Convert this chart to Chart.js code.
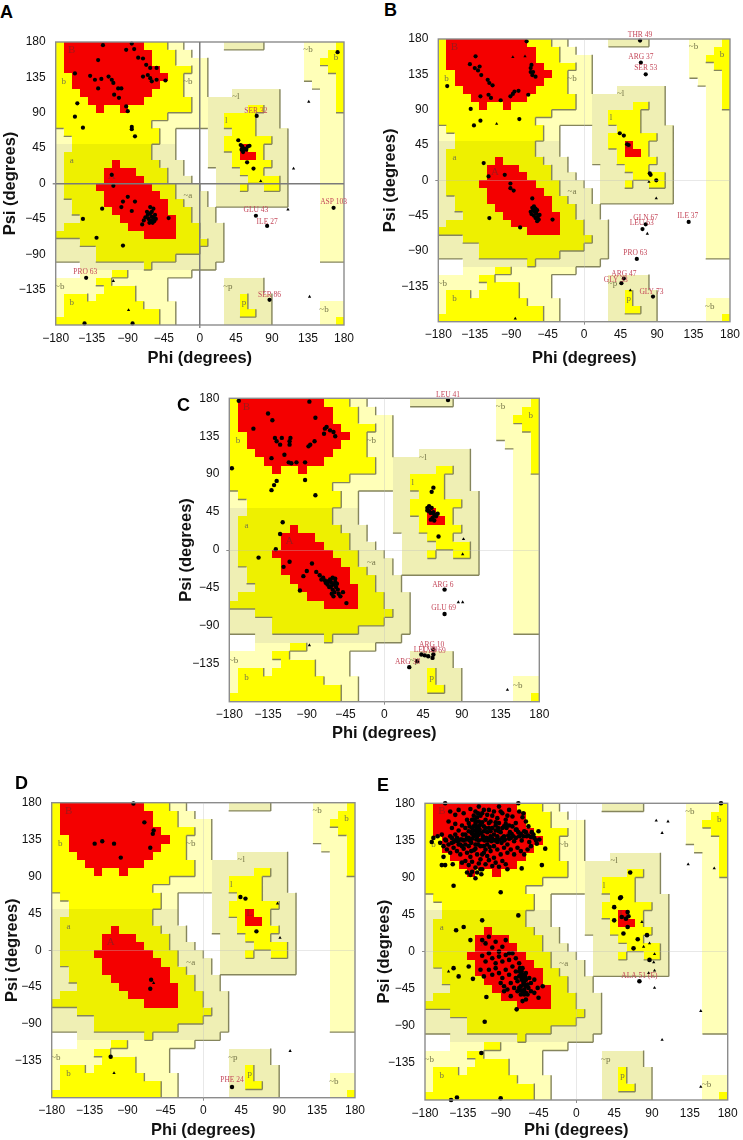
<!DOCTYPE html>
<html>
<head>
<meta charset="utf-8">
<title>Ramachandran plots</title>
<script src="https://cdn.jsdelivr.net/npm/chart.js@4"></script>
<style>
  html, body { margin:0; padding:0; background:#fff; }
  #page { position:relative; width:743px; height:1140px; overflow:hidden; }
  #page canvas { position:absolute; }
  .letter { position:absolute; font:bold 18px "Liberation Sans", Arial, sans-serif; line-height:1; color:#000; }
</style>
</head>
<body>
<div id="page"></div>
<script>
/* tick labels, same on all the panels */
const phiTicks = ['−180','−135','−90','−45','0','45','90','135','180'];
const psiTicks = ['','−135','−90','−45','0','45','90','135','180'];

/* regions map, 10 degree cells, top row is psi 170..180, run length per row
   R core, y allowed, a allowed (alpha), c generous, t generous (alpha/left), . none */
const regionRuns = [
  'y1R10y3c2.5t5.5c4y1',
  'y1R11y3c2.14c3y2',
  'y1R11y3c4.12c2y3',
  'y1R12y4c2.12c3y2',
  'y2R12y2c3.12c4y1',
  'y2R11y3c3.13c3y1',
  'y3R9y4c3.3t6.5c2y1',
  'y4R7y6c2t9.5c2y1',
  'y5R1y2R1y8c2t5y2t2.5c2y1',
  'y14c5t2y4t3.5c3',
  'y12c7t2y4t3.5c3',
  'c1y12c2.4t3y3t4.4c3',
  'c2y11c2.4t2y6t2.4c3',
  't2a10t3.4t2y2R1y2t3.4c3',
  't1a11t3.4t3y1R2y1t3.4c3',
  't1a6R1a5t3.3t3y5t2.4c3',
  't1a5R4a4t2.4t3y3t3.4c3',
  't1a5R5a3t3.3t4y4t1.4c3',
  't1a4R7a3t3.2t3y1t2y2t1.4c3',
  't1a5R7a2t4.1t9.4c3',
  't2a4R8a2t3.1t9.4c3',
  't2a5R7a3t3.13c3',
  't3a5R7a2t3.13c3',
  't1a8R6a3t3.12c3',
  'a11R4a3t3.12c3',
  't3a16t2.12c3',
  't5a13t3.12c3',
  't5a10t6.12c3',
  '.3t8a1t8.16',
  '.3c4y2c8.19',
  'c5y2c7.7t5.10',
  'c6y4c4.7t5.10',
  'c1y3c1y5c4.7t2y1t3.9',
  'c1y10c4.6t2y1t3.6c3',
  'c1y12c2.6t2y2t2.6c3',
  'y13c2.6t6.6c2y1'
];
const regionColors = { R:'#f40000', y:'#ffff00', a:'#eef000', c:'#ffffb8', t:'#efefb4' };
const regionRank = { R:2, y:2, a:2, c:1, t:1, '.':0 };

/* region letters: text, phi, psi */
const regionLabels = [
  ['B',-160,170],['b',-170,130],['a',-160,29],['A',-110,10],['~b',-15,130],['~a',-15,-15],
  ['~l',45,110],['l',33,80],['L',55,45],['~p',35,-131],['p',55,-151],['~b',135,170],
  ['b',170,160],['~b',-175,-131],['b',-160,-151],['~b',155,-161]
];

/* residues, [phi, psi] */
const pointsA = [[-85,178],[-121,176],[-92,170],[-82,171],[-127,157],[-77,160],[-71,159],[-67,151],[-62,147],[-54,147],
  [-156,140],[-137,137],[-131,132],[-123,133],[-114,136],[-110,132],[-108,128],[-127,121],[-102,121],[-98,121],[-107,113],
  [-101,109],[-92,98],[-90,92],[-71,136],[-62,134],[-60,130],[-54,132],[-43,131],[-65,138],[-153,102],[-156,85],[-146,71],
  [-85,72],[-85,69],[-81,60],[48,55],[51,49],[53,47],[56,44],[60,47],[54,40],[52,43],[58,43],[62,48],[59,27],[67,19],
  [71,86],[172,167],[-110,11],[-108,-3],[-122,-32],[-96,-23],[-90,-17],[-98,-30],[-81,-23],[-85,-35],
  [-62,-38],[-65,-40],[-60,-42],[-58,-44],[-64,-45],[-61,-47],[-56,-40],[-68,-43],[-60,-36],[-63,-50],[-57,-48],[-70,-47],
  [-66,-36],[-59,-50],[-72,-52],[-55,-45],[-62,-30],[-58,-32],[-39,-44],[-146,-45],[-129,-69],[-96,-79],[70,-41],
  [84,-54],[167,-31],[-142,-120],[-84,-178],[-144,-178],[87,-148]];
const glyA = [[117,19],[76,3],[136,104],[-108,-124],[-89,-161],[137,-144],[110,-33]];
const pointsB = [[-71,177],[-134,158],[-141,148],[-135,143],[-129,145],[-131,140],[-127,134],[-119,128],[-117,124],[-113,121],
  [-66,143],[-63,138],[-64,134],[-60,132],[-65,147],[-66,138],[-169,120],[-128,107],[-118,109],[-115,105],
  [-103,102],[-91,107],[-86,113],[-81,114],[-88,110],[-69,109],[-140,91],[-128,76],[-136,70],[-80,78],[44,60],[49,57],
  [55,45],[53,46],[81,9],[82,7],[89,0],[69,178],[70,150],[76,135],[129,-53],[76,-56],[72,-62],[65,-100],
  [49,-125],[46,-131],[85,-148],[-124,22],[-118,5],[-98,7],[-91,-4],[-91,-10],[-87,-13],[-117,-48],[-79,-60],
  [-39,-50],[-61,-40],[-63,-38],[-59,-42],[-65,-43],[-60,-36],[-62,-45],[-58,-38],[-64,-35],[-57,-46],[-60,-48],[-56,-50],[-66,-40],
  [-62,-33],[-58,-52],[-55,-44],[-64,-23]];
const glyB = [[78,-68],[89,-23],[80,-2],[-108,72],[-88,157],[-73,158],[-85,-176],[57,-140]];
const pointsC = [[-169,177],[-87,176],[-135,162],[-130,154],[-80,157],[-152,144],[-69,144],[-67,146],[-63,142],[-59,140],[-57,135],
  [-70,138],[-127,133],[-125,129],[-121,125],[-119,133],[-110,125],[-109,133],[-110,129],[-86,125],[-81,129],[-88,123],[-116,113],
  [-131,109],[-111,104],[-108,103],[-102,104],[-92,104],[-177,97],[-92,83],[-125,82],[-128,77],[-131,71],[-80,65],[57,74],[55,69],
  [52,52],[55,50],[50,50],[57,45],[54,44],[58,42],[52,46],[60,40],[56,38],[54,36],[62,43],[58,35],[50,47],[63,16],
  [74,178],[70,-47],[70,-76],[57,-118],[47,-125],[56,-128],[57,-124],[43,-124],[51,-126],[38,-132],
  [29,-139],[-118,33],[-121,19],[-126,1],[-146,-9],[-110,-14],[-117,-20],[-84,-16],[-90,-25],[-94,-31],[-98,-48],[-79,-26],
  [-75,-30],[-69,-36],[-44,-63],[-51,-55],[-59,-41],[-62,-38],[-56,-44],[-64,-44],[-60,-47],[-57,-38],[-63,-35],[-66,-41],[-58,-50],
  [-54,-47],[-61,-52],[-65,-37],[-60,-33],[-55,-40],[-68,-39],[-53,-52],[-62,-43],[-57,-34],[-59,-55],[-71,-33],[-48,-50],[-73,-35]];
const glyC = [[143,-166],[92,13],[91,-5],[86,-62],[91,-62],[-87,-113]];
const pointsD = [[-83,179],[-70,156],[-59,146],[-60,142],[-129,130],[-120,133],[-106,130],[-98,113],[-63,125],[-62,-36],
  [-63,-47],[44,65],[50,63],[63,23],[-110,-130],[34,-167]];
const glyD = [[103,-123],[91,15],[-106,-150],[88,57],[-59,-40]];
const pointsE = [[-156,180],[-69,180],[172,180],[64,96],[52,65],[53,66],[45,54],[45,38],
  [61,48],[62,43],[59,40],[54,42],[61,30],[56,22],[84,20],[73,15],[68,4],[87,-10],
  [75,-36],[-146,80],[-90,72],[-69,44],[-112,38],[-134,30],[-143,26],[-126,14],
  [-146,-20],[-140,-30],[-128,-18],[-123,-33],[-107,-55],[-71,-70],[-109,-85],[-113,-123],[-149,-180],[-142,-177],[-90,-178],
  [-37,125],[-45,146],[-41,105],[-65,101],[-158,115],[-160,105],[-156,105],[-147,106],[-126,93],[-120,89],[-113,94],[-82,100],[-170,138],[-172,133],
  [-165,140],[-160,142],[-155,135],[-150,140],[-146,133],[-142,138],[-138,130],[-135,142],[-131,136],[-128,146],[-125,132],[-122,140],
  [-118,150],[-116,135],[-113,144],[-110,128],[-107,138],[-104,150],[-101,134],[-98,142],[-95,136],[-92,146],[-89,132],[-86,140],[-83,150],
  [-80,137],[-77,143],[-74,134],[-71,148],[-68,140],[-65,135],[-62,146],[-59,140],[-56,133],[-53,145],[-50,138],[-47,131],[-44,136],
  [-150,170],[-144,166],[-140,172],[-134,168],[-130,160],[-126,173],[-122,165],[-119,158],[-116,176],[-112,168],[-108,160],[-104,172],
  [-100,165],[-96,157],[-92,176],[-88,168],[-84,160],[-80,172],[-76,164],[-72,156],[-68,170],[-64,163],[-60,158],[-57,152],[-63,168],
  [-152,158],[-148,150],[-144,155],[-140,147],[-136,153],[-132,150],[-128,156],[-124,150],[-120,156],[-116,152],[-112,157],[-108,150],
  [-104,156],[-100,150],[-96,153],[-92,156],[-88,150],[-84,155],[-80,153],[-76,152],[-72,148],
  [-158,128],[-154,124],[-150,120],[-146,126],[-142,122],[-138,118],[-134,125],[-130,120],[-126,115],[-122,123],[-118,118],[-114,112],
  [-110,120],[-106,116],[-102,122],[-98,114],[-94,124],[-90,118],[-86,126],[-82,120],[-78,124],[-74,118],[-70,126],[-66,122],[-62,118],
  [-58,124],[-54,128],[-132,110],[-128,105],[-124,109],[-120,102],[-116,107],[-112,100],[-108,106],[-104,111],[-100,104],[-96,108],
  [-92,103],[-88,110],[-84,106],[-136,108],[-130,96],[-124,97],[-118,96],[-114,100],[-124,137],[-120,130],[-116,142],[-112,136],[-110,146],
  [-106,130],[-102,140],[-98,128],[-94,140],[-90,145],[-86,135],[-82,130],[-78,138],[-118,140],[-114,128],[-128,128],[-132,142],[-136,136],
  [-140,130],[-144,142],[-148,132],[-152,130],[-156,136],[-162,132],
  [-148,138],[-144,135],[-141,134],[-138,136],[-134,135],[-130,138],[-127,135],[-124,143],[-121,147],[-119,143],[-117,146],[-115,148],
  [-119,136],[-111,140],[-109,135],[-105,135],[-103,137],[-100,137],[-97,135],[-94,133],[-91,136],[-88,138],[-85,136],[-81,141],
  [-79,145],[-75,140],[-72,138],[-69,145],[-66,143],[-63,140],[-60,145],[-57,141],[-54,139],[-51,142],[-48,135],[-121,160],[-119,152],
  [-118,163],[-116,158],[-114,165],[-120,142],[-122,152],[-125,145],[-127,152],[-110,152],[-106,145],[-102,146],[-96,147],[-93,150],
  [-128,138],[-132,130],[-136,128],[-125,122],[-120,125],[-117,130],[-112,118],[-108,124],[-103,127],
  [-124,160],[-120,170],[-117,168],[-110,172],[-114,154],[-106,166],[-102,158],[-98,170],[-94,162],[-90,170],[-86,152],[-82,165],
  [-112,14],[-108,10],[-104,18],[-100,5],[-96,12],[-92,0],[-88,6],[-84,14],[-80,-2],[-112,-5],[-108,-12],[-104,-2],[-100,-8],[-96,-14],
  [-92,-6],[-88,-12],[-84,-4],[-80,-10],[-76,-2],[-72,-8],[-68,-14],[-104,-22],[-100,-28],[-96,-20],[-92,-26],[-88,-32],[-84,-22],[-80,-28],
  [-76,-18],[-72,-24],[-68,-30],[-64,-20],[-60,-26],[-56,-32],[-114,-22],[-110,-30],[-90,-38],[-86,-42],[-82,-46],[-78,-38],[-74,-44],
  [-70,-36],[-66,-42],[-62,-36],[-58,-40],[-54,-38],[-50,-34],[-70,-48],[-66,-52],[-62,-46],[-58,-52],[-54,-48],[-64,-60],[-60,-58],
  [-50,-50],[-45,-56],[-40,-42],[-46,-44],[-78,-54],[-86,-48],[-68,-24],[-64,-32],[-60,-34],[-66,-28],[-62,-40],[-64,-48],[-72,-32],
  [-67,-20],[-65,-24],[-63,-28],[-61,-30],[-65,-34],[-63,-38],[-60,-42],[-68,-44],[-66,-47],[-62,-52],[-60,-50],[-57,-44]];
const glyE = [[95,159],[109,158],[102,144],[133,106],[164,101],[148,-72],[102,-107],[148,-164],[93,-3],[92,-13],[93,-23],[93,-44],
  [87,10],[86,-26],[-152,-24],[78,36],[80,6]];

/* label text, phi, psi of the flagged residues */
const residuesA = [['SER 32',70,92],['GLU 43',70,-34],['ILE 27',84,-49],['ASP 103',167,-24],['PRO 63',-143,-113],['SER 86',87,-142]];
const residuesB = [['THR 49',69,185],['ARG 37',70,157],['SER 53',76,143],['GLN 67',76,-48],['LEU 63',71,-54],['ILE 37',128,-45],
  ['PRO 63',63,-92],['ARG 47',49,-119],['GLY 33',39,-127],['GLY 73',83,-142]];
const residuesC = [['LEU 41',74,184],['ARG 6',68,-41],['GLU 69',69,-69],['ARG 10',55,-113],['LEU 29',48,-119],['LYS 69',58,-120],['ARG 38',27,-133]];
const residuesD = [['PHE 24',34,-158]];
const residuesE = [['ALA 51 (E)',75,-30]];

/* plot box in page pixels */
const panels = [
  { name:'A', data:pointsA, gly:glyA, residues:residuesA, l:55.7, r:344, t:42, b:325, ytitle:11, xtitle:358, lx:0, ly:3, zero:'#7a7a7a', zeroW:1.5, dot:2.1 },
  { name:'B', data:pointsB, gly:glyB, residues:residuesB, l:438.3, r:732.3, t:39, b:321.7, ytitle:391, xtitle:358, lx:384, ly:1, zero:'rgba(190,190,190,.35)', zeroW:1, dot:2.1 },
  { name:'C', data:pointsC, gly:glyC, residues:residuesC, l:229.3, r:539.3, t:398.3, b:701.7, ytitle:187, xtitle:733, lx:177, ly:396, zero:'rgba(190,190,190,.35)', zeroW:1, dot:2.2 },
  { name:'D', data:pointsD, gly:glyD, residues:residuesD, l:51.7, r:355, t:802.7, b:1097.7, ytitle:13, xtitle:1131, lx:15, ly:774, zero:'rgba(190,190,190,.35)', zeroW:1, dot:2.2 },
  { name:'E', data:pointsE, gly:glyE, residues:residuesE, l:425, r:727.7, t:803.3, b:1100, ytitle:385, xtitle:1132, lx:377, ly:776, zero:'rgba(190,190,190,.35)', zeroW:1, dot:2.3 }
];

const regionGrid = regionRuns.map(line => {
  let row = '';
  line.replace(/([yRatc.])(\d+)/g, (m, k, n) => { row += k.repeat(Number(n)); return m; });
  return row;
});

// paints the 10 degree cells under the points, through the chart scales
const regionPlugin = {
  id: 'regions',
  beforeDatasetsDraw(chart) {
    const { ctx, scales:{ x, y } } = chart;
    ctx.save();
    regionGrid.forEach((row, r) => {
      for (let c = 0; c < 36; c++) {
        const col = regionColors[row[c]];
        if (!col) continue;
        const x0 = x.getPixelForValue(-180 + c*10), x1 = x.getPixelForValue(-170 + c*10);
        const y0 = y.getPixelForValue(180 - r*10), y1 = y.getPixelForValue(170 - r*10);
        ctx.fillStyle = col;
        ctx.fillRect(Math.round(x0), Math.round(y0), Math.round(x1)-Math.round(x0), Math.round(y1)-Math.round(y0));
      }
    });
    // dark edge on bottom and right side of each region
    ctx.strokeStyle = '#85855c';
    ctx.lineWidth = 1.4;
    ctx.beginPath();
    regionGrid.forEach((row, r) => {
      for (let c = 0; c < 36; c++) {
        const rank = regionRank[row[c]];
        const x1 = x.getPixelForValue(-170 + c*10), y1 = y.getPixelForValue(170 - r*10);
        if (r < 35 && rank > regionRank[regionGrid[r+1][c]]) {
          ctx.moveTo(x.getPixelForValue(-180 + c*10), y1); ctx.lineTo(x1, y1);
        }
        if (c < 35 && rank > regionRank[row[c+1]]) {
          ctx.moveTo(x1, y.getPixelForValue(180 - r*10)); ctx.lineTo(x1, y1);
        }
      }
    });
    ctx.stroke();
    // region letters
    ctx.textAlign = 'center';
    ctx.textBaseline = 'middle';
    regionLabels.forEach(([txt, phi, psi]) => {
      const big = txt === 'A' || txt === 'B' || txt === 'L';
      ctx.font = (big ? '11px' : '9px') + ' "Liberation Serif", serif';
      ctx.fillStyle = big ? '#a01818' : '#77774a';
      ctx.fillText(txt, x.getPixelForValue(phi), y.getPixelForValue(psi));
    });
    ctx.restore();
  },
  afterDatasetsDraw(chart, args, opts) {
    const { ctx, chartArea:a, scales:{ x, y } } = chart;
    ctx.save();
    ctx.strokeStyle = '#8c8c8c';
    ctx.lineWidth = 1.4;
    ctx.strokeRect(a.left, a.top, a.right - a.left, a.bottom - a.top);
    // flagged residues
    ctx.font = '7.5px "Liberation Serif", serif';
    ctx.textAlign = 'center';
    ctx.textBaseline = 'middle';
    ctx.fillStyle = '#c4485a';
    opts.residues.forEach(([txt, phi, psi]) => {
      ctx.fillText(txt, x.getPixelForValue(phi), y.getPixelForValue(psi));
    });
    ctx.restore();
  }
};

const page = document.getElementById('page');
Chart.defaults.font.family = '"Liberation Sans", Arial, sans-serif';
Chart.defaults.color = '#111';

panels.forEach(p => {
  const left = Math.floor(p.ytitle - 10);
  const right = Math.min(743, Math.ceil(p.r + 16));
  // y tick padding + half label needs about 15px above the plot
  const top = Math.floor(p.t - 17);
  const bottom = Math.min(1140, Math.ceil(p.xtitle + 10));
  const cv = document.createElement('canvas');
  cv.width = right - left;
  cv.height = bottom - top;
  cv.style.left = left + 'px';
  cv.style.top = top + 'px';
  page.appendChild(cv);

  const lbl = document.createElement('div');
  lbl.className = 'letter';
  lbl.textContent = p.name;
  lbl.style.left = p.lx + 'px';
  lbl.style.top = p.ly + 'px';
  page.appendChild(lbl);

  const axisGrid = {
    color: c => c.tick && c.tick.value === 0 ? p.zero : 'transparent',
    lineWidth: c => c.tick && c.tick.value === 0 ? p.zeroW : 0,
    tickColor: '#8c8c8c',
    tickLength: 3,
    z: 1
  };

  new Chart(cv, {
    type: 'scatter',
    data: { datasets: [
      { data: p.data.map(d => ({ x:d[0], y:d[1] })), backgroundColor:'#000', borderWidth:0, pointRadius:p.dot, clip:false },
      { data: p.gly.map(d => ({ x:d[0], y:d[1] })), backgroundColor:'#000', borderWidth:0, pointStyle:'triangle', pointRadius:1.9, clip:false }
    ] },
    options: {
      responsive: false,
      animation: false,
      devicePixelRatio: 1,
      layout: { padding: { top: p.t - top, right: right - p.r, left: 0, bottom: 0 } },
      plugins: { legend:{ display:false }, tooltip:{ enabled:false }, regions:{ residues:p.residues } },
      scales: {
        x: {
          type:'linear', min:-180, max:180,
          afterFit: s => { s.height = bottom - p.b; },
          grid: axisGrid,
          border: { display:false },
          ticks: { stepSize:45, autoSkip:false, maxRotation:0, padding:3, font:{ size:12 }, callback:(v,i) => phiTicks[i] },
          title: { display:true, text:'Phi (degrees)', font:{ size:16.5, weight:'bold' }, padding:0, color:'#111' }
        },
        y: {
          type:'linear', min:-180, max:180,
          afterFit: s => { s.width = p.l - left; },
          grid: axisGrid,
          border: { display:false },
          ticks: { stepSize:45, autoSkip:false, padding:7, font:{ size:12 }, callback:(v,i) => psiTicks[i] },
          title: { display:true, text:'Psi (degrees)', font:{ size:16.5, weight:'bold' }, padding:0, color:'#111' }
        }
      }
    },
    plugins: [regionPlugin]
  });
});
</script>
</body>
</html>
